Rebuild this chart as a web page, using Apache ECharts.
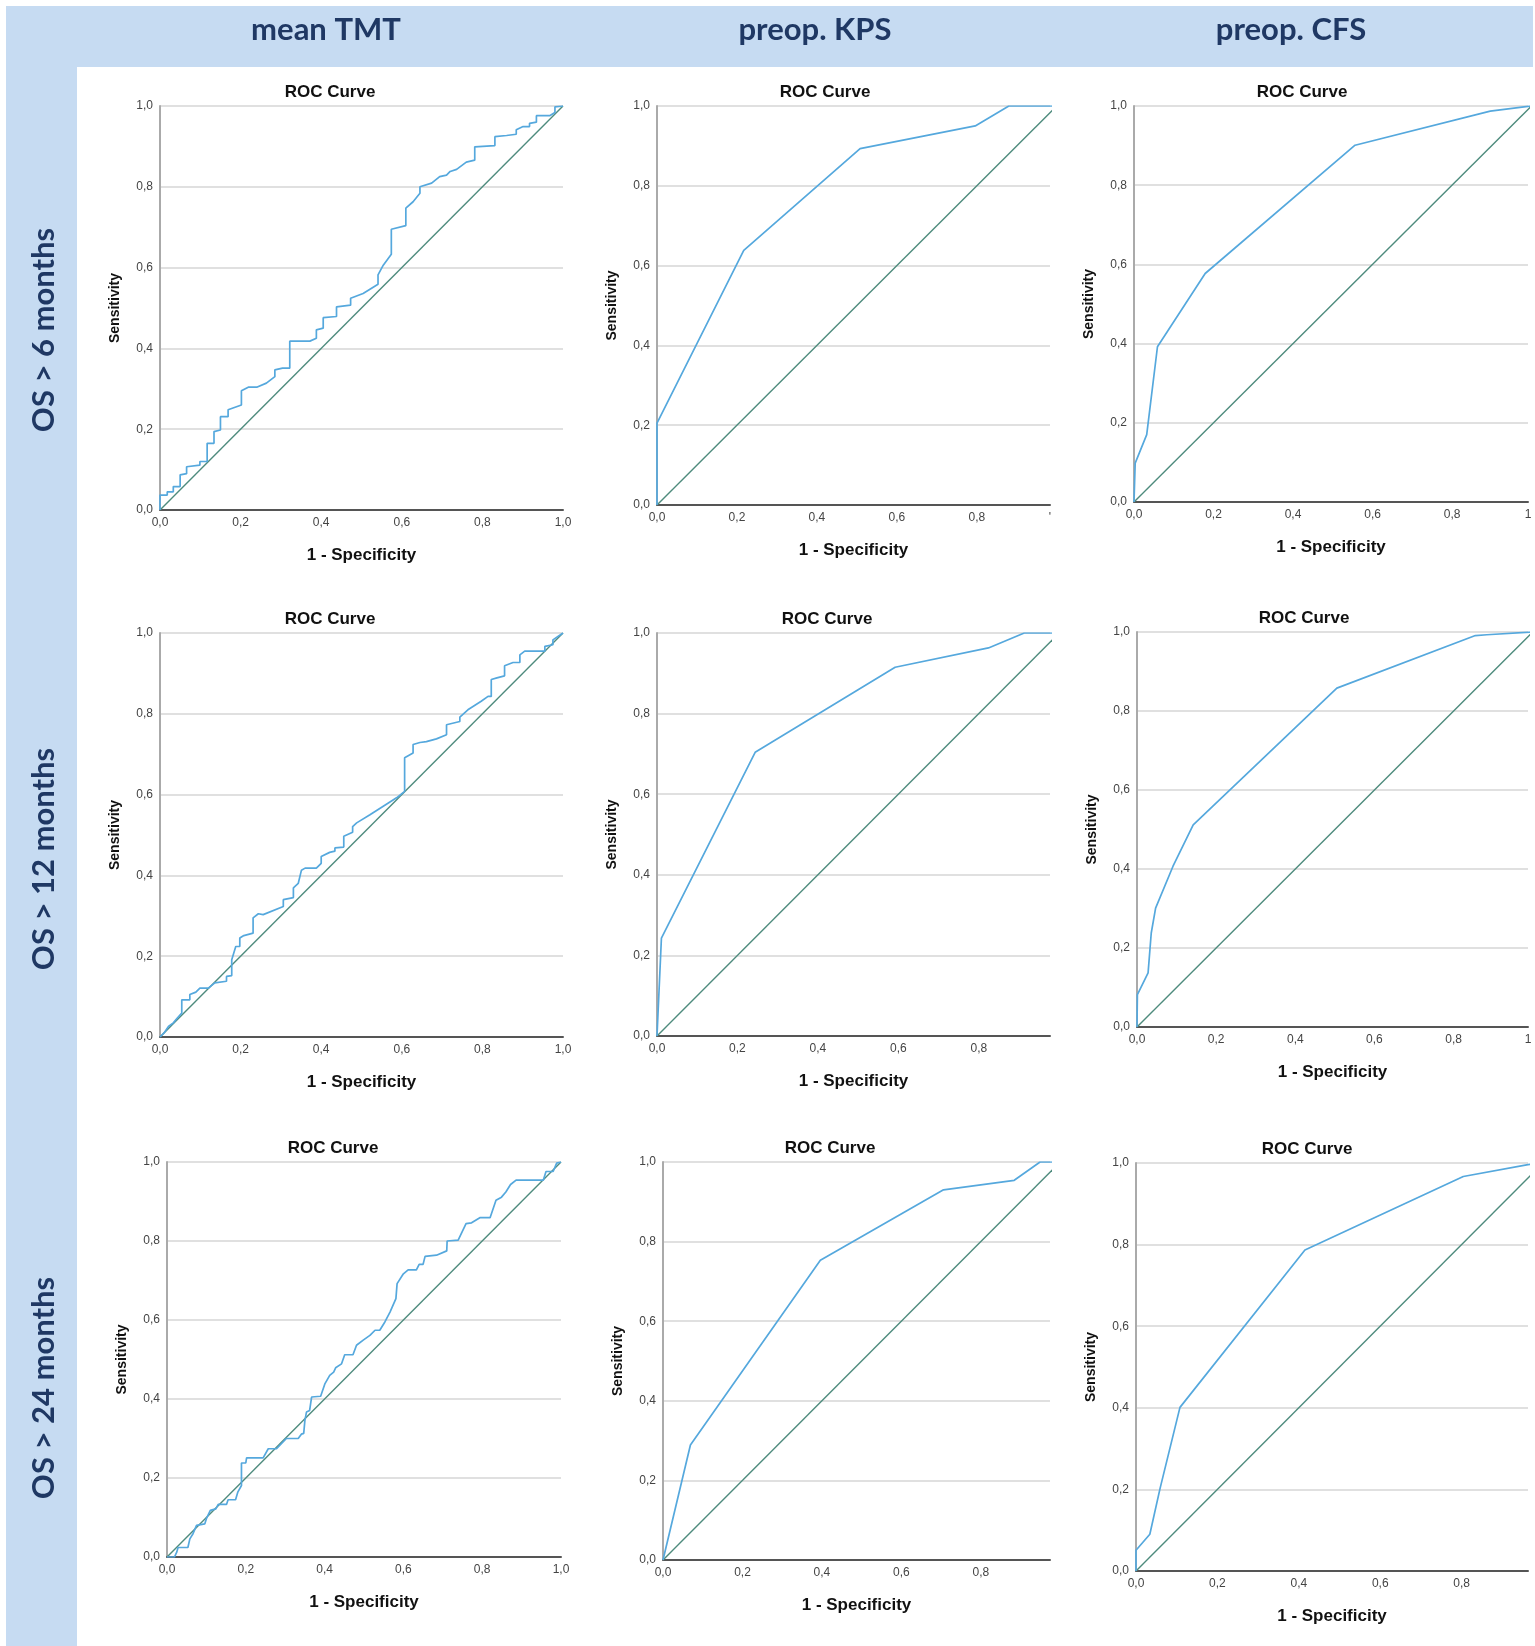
<!DOCTYPE html>
<html>
<head>
<meta charset="utf-8">
<script src="https://cdn.jsdelivr.net/npm/echarts@6/dist/echarts.min.js"></script>
<style>
html,body{margin:0;padding:0;background:#fff;}
#chart{width:1535px;height:1646px;}
</style>
</head>
<body>
<div id="chart"></div>
<script>
// ---------- data ----------
const columnHeaders = ['mean TMT', 'preop. KPS', 'preop. CFS'];
const rowHeaders = ['OS > 6 months', 'OS > 12 months', 'OS > 24 months'];
const plotTitle = 'ROC Curve';
const xAxisName = '1 - Specificity';
const yAxisName = 'Sensitivity';

const roc_tmt_6 = [[0,0],[0,0.037],[0.018,0.037],[0.018,0.045],[0.033,0.045],[0.033,0.058],[0.05,0.058],[0.05,0.087],[0.066,0.09],[0.066,0.107],[0.099,0.111],[0.099,0.12],[0.117,0.12],[0.117,0.165],[0.134,0.165],[0.134,0.194],[0.15,0.198],[0.15,0.231],[0.169,0.231],[0.169,0.248],[0.202,0.26],[0.202,0.295],[0.219,0.304],[0.24,0.304],[0.264,0.314],[0.285,0.33],[0.285,0.347],[0.304,0.351],[0.322,0.351],[0.322,0.418],[0.372,0.418],[0.388,0.425],[0.388,0.446],[0.405,0.45],[0.405,0.476],[0.438,0.479],[0.438,0.503],[0.473,0.507],[0.473,0.524],[0.504,0.536],[0.541,0.559],[0.541,0.582],[0.554,0.606],[0.574,0.633],[0.574,0.695],[0.61,0.704],[0.61,0.747],[0.628,0.763],[0.645,0.784],[0.645,0.80],[0.674,0.809],[0.694,0.825],[0.711,0.829],[0.72,0.838],[0.736,0.843],[0.76,0.861],[0.781,0.866],[0.781,0.899],[0.831,0.902],[0.831,0.924],[0.86,0.927],[0.884,0.93],[0.884,0.941],[0.901,0.949],[0.917,0.949],[0.917,0.957],[0.934,0.96],[0.934,0.976],[0.967,0.976],[0.98,0.984],[0.98,0.998],[1,1]];
const roc_kps_6 = [[0,0],[0,0.205],[0.217,0.638],[0.508,0.893],[0.796,0.95],[0.88,1.0],[1,1]];
const roc_cfs_6 = [[0,0],[0.003,0.098],[0.032,0.17],[0.059,0.392],[0.179,0.577],[0.556,0.901],[0.896,0.987],[1,1]];

const roc_tmt_12 = [[0,0],[0.01,0.01],[0.021,0.026],[0.033,0.035],[0.043,0.047],[0.054,0.059],[0.054,0.092],[0.074,0.092],[0.074,0.105],[0.089,0.111],[0.099,0.121],[0.12,0.121],[0.136,0.134],[0.165,0.138],[0.165,0.15],[0.178,0.152],[0.178,0.191],[0.188,0.224],[0.198,0.224],[0.198,0.245],[0.208,0.251],[0.231,0.257],[0.231,0.295],[0.244,0.305],[0.256,0.303],[0.306,0.323],[0.306,0.34],[0.331,0.345],[0.331,0.369],[0.343,0.38],[0.351,0.413],[0.36,0.418],[0.388,0.418],[0.40,0.43],[0.40,0.447],[0.421,0.457],[0.434,0.46],[0.434,0.468],[0.456,0.47],[0.456,0.497],[0.478,0.507],[0.478,0.521],[0.488,0.53],[0.521,0.55],[0.554,0.571],[0.587,0.592],[0.607,0.608],[0.607,0.691],[0.628,0.703],[0.628,0.724],[0.645,0.729],[0.661,0.731],[0.686,0.738],[0.711,0.748],[0.711,0.773],[0.744,0.781],[0.744,0.792],[0.764,0.81],[0.797,0.831],[0.814,0.843],[0.822,0.843],[0.822,0.885],[0.836,0.889],[0.855,0.894],[0.855,0.919],[0.876,0.927],[0.893,0.927],[0.893,0.946],[0.905,0.955],[0.955,0.955],[0.955,0.967],[0.975,0.971],[0.975,0.983],[1,1]];
const roc_kps_12 = [[0,0],[0.011,0.243],[0.244,0.704],[0.592,0.915],[0.824,0.963],[0.913,1.0],[1,1]];
const roc_cfs_12 = [[0,0],[0.001,0.082],[0.028,0.137],[0.036,0.238],[0.047,0.301],[0.091,0.407],[0.142,0.512],[0.505,0.858],[0.855,0.991],[0.884,0.993],[1,1]];

const roc_tmt_24 = [[0,0],[0.019,0],[0.025,0.013],[0.028,0.024],[0.053,0.024],[0.058,0.046],[0.066,0.059],[0.075,0.08],[0.096,0.084],[0.1,0.097],[0.11,0.118],[0.124,0.122],[0.13,0.133],[0.151,0.133],[0.155,0.145],[0.174,0.145],[0.18,0.165],[0.189,0.181],[0.189,0.238],[0.2,0.238],[0.202,0.251],[0.244,0.251],[0.257,0.274],[0.278,0.274],[0.303,0.3],[0.333,0.3],[0.341,0.311],[0.347,0.313],[0.35,0.346],[0.354,0.367],[0.362,0.371],[0.367,0.405],[0.39,0.407],[0.401,0.439],[0.413,0.46],[0.423,0.468],[0.428,0.479],[0.443,0.489],[0.451,0.512],[0.472,0.512],[0.481,0.536],[0.498,0.549],[0.515,0.561],[0.528,0.574],[0.54,0.574],[0.553,0.595],[0.566,0.62],[0.581,0.654],[0.584,0.692],[0.6,0.717],[0.612,0.727],[0.633,0.727],[0.64,0.741],[0.65,0.741],[0.655,0.761],[0.684,0.764],[0.71,0.775],[0.711,0.8],[0.739,0.802],[0.759,0.844],[0.773,0.846],[0.794,0.859],[0.82,0.859],[0.835,0.903],[0.849,0.911],[0.86,0.924],[0.872,0.943],[0.886,0.954],[0.955,0.954],[0.962,0.976],[0.98,0.976],[0.989,0.997],[1,1]];
const roc_kps_24 = [[0,0],[0.069,0.289],[0.396,0.753],[0.706,0.93],[0.884,0.954],[0.949,1.0],[1,1]];
const roc_cfs_24 = [[0,0],[0,0.051],[0.034,0.09],[0.059,0.202],[0.108,0.401],[0.415,0.787],[0.804,0.967],[0.963,0.996],[1,1]];

const referenceLine = [[0,0],[1,1]];

const curves = [roc_tmt_6, roc_kps_6, roc_cfs_6, roc_tmt_12, roc_kps_12, roc_cfs_12, roc_tmt_24, roc_kps_24, roc_cfs_24];
// right end of each x axis (the axes are cut short in the source figure)
const xAxisMax = [1.0, 0.983, 0.991, 1.0, 0.977, 0.988, 1.0, 0.974, 0.963];
const xAxisMaxLabel = ['1,0', "'", '1', '1,0', '', '1', '1,0', '', ''];
const tickInterval = 0.2;

// ---------- layout (pixels) ----------
const plotRects = [
  [160,106,403,404],[657,106,393,399],[1134,106,394,396],
  [160,633,403,404],[657,633,393,403],[1137,632,391,395],
  [167,1162,394,395],[663,1162,387,398],[1136,1163,392,408]
];
const titleCenters = [[330,92],[825,92],[1302,92],[330,619],[827,619],[1304,618],[333,1148],[830,1148],[1307,1149]];
const headerCentersX = [326, 815, 1291];
const rowCentersY = [330, 859, 1388];

const BAND = '#C6DBF2';
const HEAD = '#1F3864';
const CURVE = '#55A8DD';
const DIAG = '#4E8B7D';
const FONT = "'Liberation Sans', Arial, sans-serif";

const fmt = v => v.toFixed(1).replace('.', ',');

const grids = [], xAxes = [], yAxes = [], series = [], graphics = [];

graphics.push({type:'rect', z:-10, shape:{x:6,y:6,width:1527,height:61}, style:{fill:BAND}});
graphics.push({type:'rect', z:-10, shape:{x:6,y:6,width:71,height:1640}, style:{fill:BAND}});
columnHeaders.forEach((t,i)=>{
  graphics.push({type:'text', x:headerCentersX[i], y:30, style:{text:t, fill:HEAD, font:"bold 31px Lato, 'Open Sans', sans-serif", textAlign:'center', textVerticalAlign:'middle', verticalAlign:'middle'}});
});
rowHeaders.forEach((t,i)=>{
  graphics.push({type:'text', x:44, y:rowCentersY[i], rotation:Math.PI/2, style:{text:t, fill:HEAD, font:"bold 31px Lato, 'Open Sans', sans-serif", textAlign:'center', textVerticalAlign:'middle', verticalAlign:'middle'}});
});

curves.forEach((curve,i)=>{
  const r = plotRects[i];
  grids.push({left:r[0], top:r[1], width:r[2], height:r[3], containLabel:false, outerBoundsMode:'none'});
  const mx = xAxisMax[i];
  const mlabel = xAxisMaxLabel[i];
  xAxes.push({
    type:'value', gridIndex:i, min:0, max:mx, interval:tickInterval,
    name:xAxisName, nameLocation:'middle', nameGap:37, nameMoveOverlap:false,
    nameTextStyle:{fontFamily:FONT, fontWeight:'bold', fontSize:17, color:'#111'},
    axisLine:{show:true, onZero:false, lineStyle:{color:'#555', width:2}},
    axisTick:{show:false},
    splitLine:{show:false},
    axisLabel:{show:true, showMinLabel:true, showMaxLabel:true, hideOverlap:false, margin:7, fontFamily:FONT, fontSize:12, color:'#444',
      formatter:v => (Math.abs(v-mx) < 1e-9 ? mlabel : fmt(v))}
  });
  yAxes.push({
    type:'value', gridIndex:i, min:0, max:1, interval:tickInterval,
    name:yAxisName, nameLocation:'middle', nameGap:38, nameMoveOverlap:false,
    nameTextStyle:{fontFamily:FONT, fontWeight:'bold', fontSize:14, color:'#111'},
    axisLine:{show:true, lineStyle:{color:'#aaa', width:2}},
    axisTick:{show:false},
    splitLine:{show:true, lineStyle:{color:'#d6d6d6', width:1.5}},
    axisLabel:{margin:7, fontFamily:FONT, fontSize:12, color:'#444', formatter:v=>fmt(v)}
  });
  series.push({type:'line', xAxisIndex:i, yAxisIndex:i, data:referenceLine, showSymbol:false, symbol:'none', clip:true, silent:true,
    lineStyle:{color:DIAG, width:1.4}, z:2});
  series.push({type:'line', xAxisIndex:i, yAxisIndex:i, data:curve, showSymbol:false, symbol:'none', clip:true, silent:true,
    lineStyle:{color:CURVE, width:1.7}, z:3});
  graphics.push({type:'text', x:titleCenters[i][0], y:titleCenters[i][1], style:{text:plotTitle, fill:'#111', font:"bold 17px 'Liberation Sans', Arial, sans-serif", textAlign:'center', textVerticalAlign:'middle', verticalAlign:'middle'}});
});

const chart = echarts.init(document.getElementById('chart'), null, {renderer:'canvas', width:1535, height:1646});
chart.setOption({
  backgroundColor:'#fff',
  animation:false,
  grid:grids, xAxis:xAxes, yAxis:yAxes, series:series,
  graphic:{elements:graphics}
});
</script>
</body>
</html>
